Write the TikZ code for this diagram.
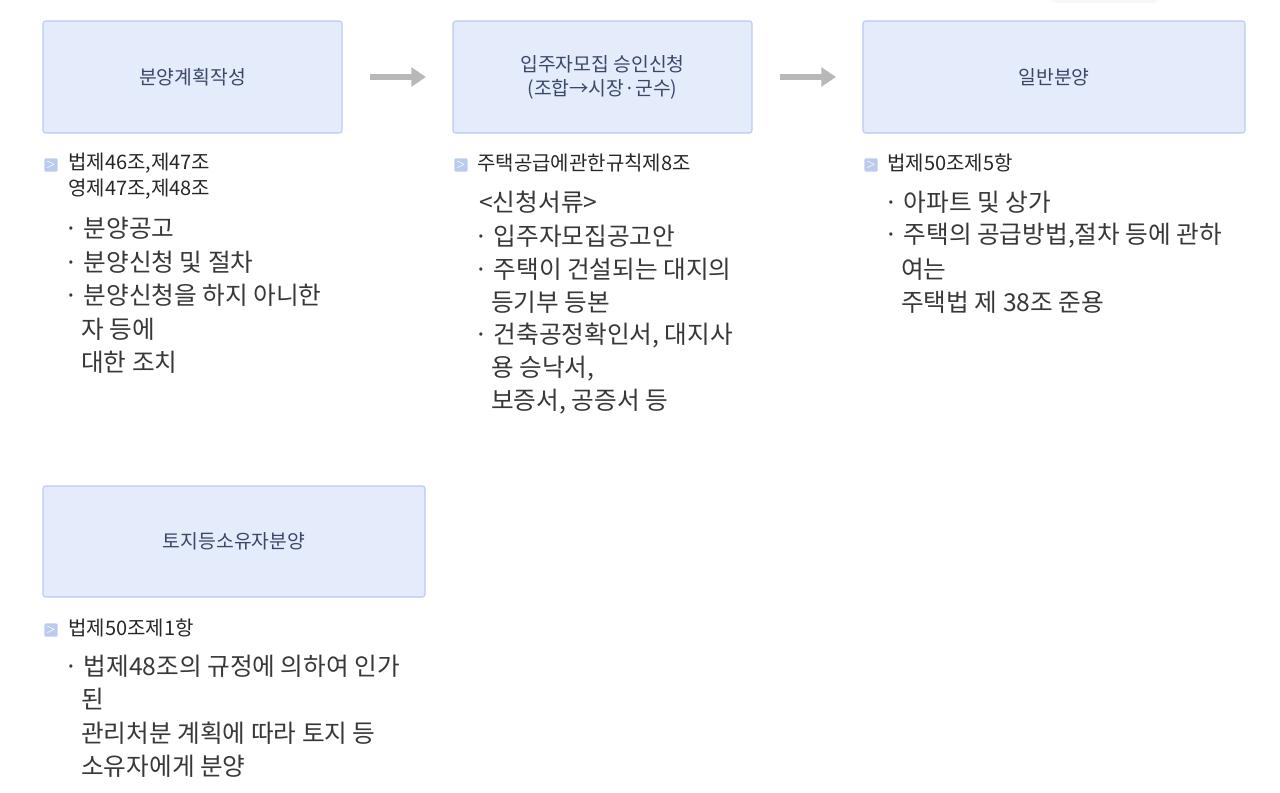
\documentclass[tikz,border=0pt]{standalone}
\usepackage{fontspec}
\newfontfamily\kr{Noto Sans CJK KR}
\definecolor{boxfill}{HTML}{E4EBFB}
\definecolor{boxline}{HTML}{B9CBF0}
\definecolor{boxtxt}{HTML}{3A4868}
\definecolor{icofill}{HTML}{BBCBEE}
\begin{document}
\begin{tikzpicture}[x=0.75pt,y=-0.75pt,
  stepbox/.style={draw=boxline,fill=boxfill,line width=0.8pt,rounded corners=2pt,font=\kr\fontsize{14.5}{18}\selectfont,text=boxtxt,align=center},
  hdr/.style={anchor=west,inner sep=0,font=\kr\fontsize{15}{18}\selectfont,text=black!85},
  txt/.style={anchor=west,inner sep=0,font=\kr\fontsize{18.5}{22}\selectfont,text=black!78},
  flow/.style={draw=black!28,line width=4pt,-{Triangle[length=11pt,width=14pt]}},
  ico/.style={fill=icofill,rounded corners=1pt,minimum size=10pt,inner sep=0,text=white,font=\bfseries\fontsize{8}{8}\selectfont}]
\usetikzlibrary{arrows.meta}
\useasboundingbox (0,0) rectangle (1280,792);
\fill[black!3,rounded corners=6pt] (1050,-6) rectangle (1160,3);
\draw[stepbox] (43,21) rectangle (342,133) node[midway] (a) {분양계획작성};
\draw[stepbox] (453,21) rectangle (752,133) node[midway] (b) {입주자모집 승인신청\\(조합→시장·군수)};
\draw[stepbox] (863,21) rectangle (1245,133) node[midway] (c) {일반분양};
\draw[stepbox] (43,486) rectangle (425,597) node[midway] (d) {토지등소유자분양};
\coordinate (a1) at (370,77); \coordinate (a2) at (426,77);
\coordinate (b1) at (780,77); \coordinate (b2) at (836,77);
\draw[flow] (a1) -- (a2);
\draw[flow] (b1) -- (b2);
% column A
\node[ico] (ia) at (51,165) {>};
\node[hdr] (ha1) at (68,163) {법제46조,제47조};
\node[hdr] (ha2) at (68,189) {영제47조,제48조};
\node[txt] (ta1) at (64,228) {· 분양공고};
\node[txt] (ta2) at (64,262) {· 분양신청 및 절차};
\node[txt] (ta3) at (64,295) {· 분양신청을 하지 아니한};
\node[txt] (ta4) at (81,329) {자 등에};
\node[txt] (ta5) at (81,362) {대한 조치};
% column B
\node[ico] (ib) at (461,165) {>};
\node[hdr] (hb1) at (477,163) {주택공급에관한규칙제8조};
\node[txt] (tb0) at (479,202) {<신청서류>};
\node[txt] (tb1) at (474,236) {· 입주자모집공고안};
\node[txt] (tb2) at (474,269) {· 주택이 건설되는 대지의};
\node[txt] (tb3) at (491,302) {등기부 등본};
\node[txt] (tb4) at (474,336) {· 건축공정확인서, 대지사};
\node[txt] (tb5) at (491,369) {용 승낙서,};
\node[txt] (tb6) at (491,402) {보증서, 공증서 등};
% column C
\node[ico] (ic) at (871,165) {>};
\node[hdr] (hc1) at (887,163) {법제50조제5항};
\node[txt] (tc1) at (884,202) {· 아파트 및 상가};
\node[txt] (tc2) at (884,236) {· 주택의 공급방법,절차 등에 관하};
\node[txt] (tc3) at (901,269) {여는};
\node[txt] (tc4) at (901,302) {주택법 제 38조 준용};
% column D
\node[ico] (id) at (51,630) {>};
\node[hdr] (hd1) at (68,628) {법제50조제1항};
\node[txt] (td1) at (64,666) {· 법제48조의 규정에 의하여 인가};
\node[txt] (td2) at (81,699) {된};
\node[txt] (td3) at (81,733) {관리처분 계획에 따라 토지 등};
\node[txt] (td4) at (81,766) {소유자에게 분양};
\end{tikzpicture}
\end{document}
